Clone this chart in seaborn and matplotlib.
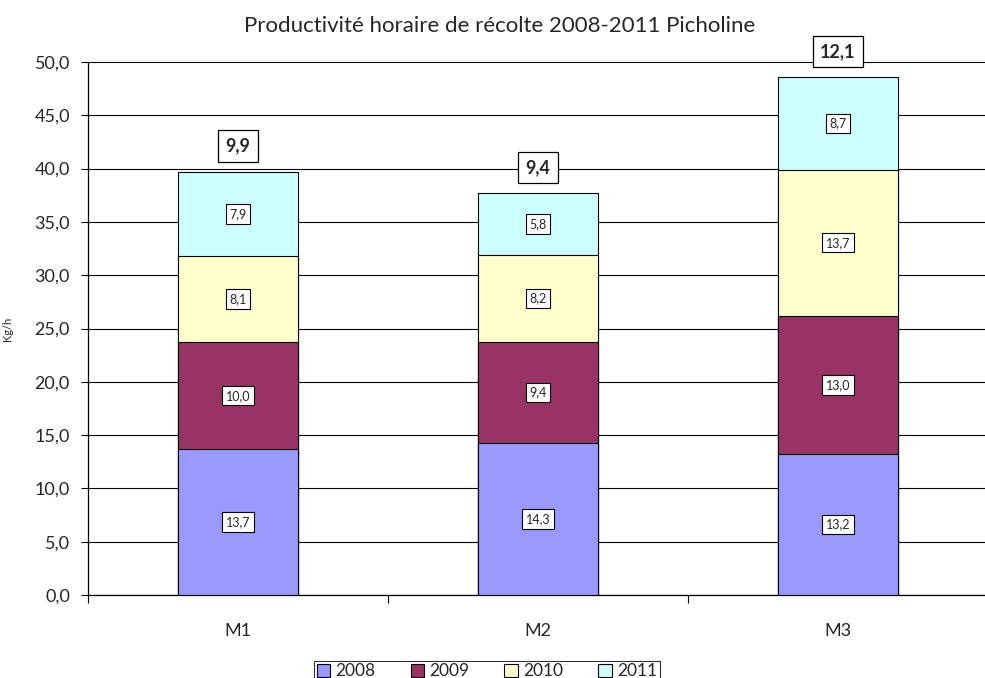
import matplotlib
matplotlib.use("Agg")
import matplotlib.pyplot as plt
import seaborn as sns
import pandas as pd
import numpy as np
from matplotlib.patches import Patch

categories = ["M1", "M2", "M3"]
years = ["2008", "2009", "2010", "2011"]
v2008 = [13.7, 14.3, 13.2]
v2009 = [10.0, 9.4, 13.0]
v2010 = [8.1, 8.2, 13.7]
v2011 = [7.9, 5.8, 8.7]
top_labels = [9.9, 9.4, 12.1]
colors = ["#9999FF", "#993366", "#FFFFCC", "#CCFFFF"]

series = [v2008, v2009, v2010, v2011]

sns.set_theme(style="white")
plt.rcParams['font.family'] = ['Lato', 'DejaVu Sans']

fig = plt.figure(figsize=(9.85, 6.78), dpi=100)
ax = fig.add_axes([88/985, 83/678, 900/985, 533/678])

cum = np.cumsum(np.array(series), axis=0)
# draw from top series to bottom so lower segments overlay
for i in reversed(range(len(years))):
    df = pd.DataFrame({"cat": categories, "val": cum[i]})
    sns.barplot(data=df, x="cat", y="val", color=colors[i], saturation=1,
                width=0.4, edgecolor="black", linewidth=0.8, ax=ax, zorder=3)

def fmt(v):
    return f"{v:.1f}".replace(".", ",")

for i in range(len(years)):
    for j in range(len(categories)):
        base = cum[i][j] - series[i][j]
        y = base + series[i][j] / 2
        ax.text(j, y, fmt(series[i][j]), ha="center", va="center", fontsize=9,
                zorder=5,
                bbox=dict(boxstyle="square,pad=0.3", fc="white", ec="black", lw=0.8))

for j in range(len(categories)):
    ax.text(j, cum[-1][j] + 2.4, fmt(top_labels[j]), ha="center", va="center",
            fontsize=13, fontweight="bold", zorder=5,
            bbox=dict(boxstyle="square,pad=0.4", fc="white", ec="black", lw=0.9))

ax.set_ylim(0, 50)
ax.set_xlim(-0.5, 2.5)
ax.set_yticks(np.arange(0, 50.1, 5))
ax.set_yticklabels([fmt(v) for v in np.arange(0, 50.1, 5)], fontsize=13)
ax.set_xticks(range(3))
ax.set_xticklabels(categories, fontsize=13)
ax.set_xticks([-0.5, 0.5, 1.5, 2.5], minor=True)
ax.tick_params(axis="x", which="major", length=0, pad=20)
ax.tick_params(axis="x", which="minor", length=6, width=0.8, color="black", direction="out", bottom=True)
ax.tick_params(axis="y", which="major", length=5, width=0.8, color="black", direction="out", left=True, pad=8)
ax.yaxis.grid(True, color="black", linewidth=0.8, zorder=0)
ax.set_axisbelow(True)
for s in ["top", "right"]:
    ax.spines[s].set_visible(False)
for s in ["left", "bottom"]:
    ax.spines[s].set_color("black")
    ax.spines[s].set_linewidth(0.9)
ax.set_xlabel("")
ax.set_ylabel("Kg/h", fontsize=8)
ax.yaxis.set_label_coords(-75/900, 0.5)

fig.text(500/985, 1 - 26/678, "Productivité horaire de récolte 2008-2011 Picholine",
         ha="center", va="center", fontsize=16)

handles = [Patch(facecolor=c, edgecolor="black", linewidth=0.8, label=y) for c, y in zip(colors, years)]
leg = fig.legend(handles=handles, loc="upper center", bbox_to_anchor=(487/985, 1 - 652/678),
                 ncol=4, frameon=True, fontsize=12.5, handlelength=0.8, handleheight=0.8,
                 columnspacing=2.0, handletextpad=0.3, borderpad=0.15, fancybox=False)
leg.get_frame().set_edgecolor("black")
leg.get_frame().set_linewidth(0.8)

fig.savefig("out.png", dpi=100)
